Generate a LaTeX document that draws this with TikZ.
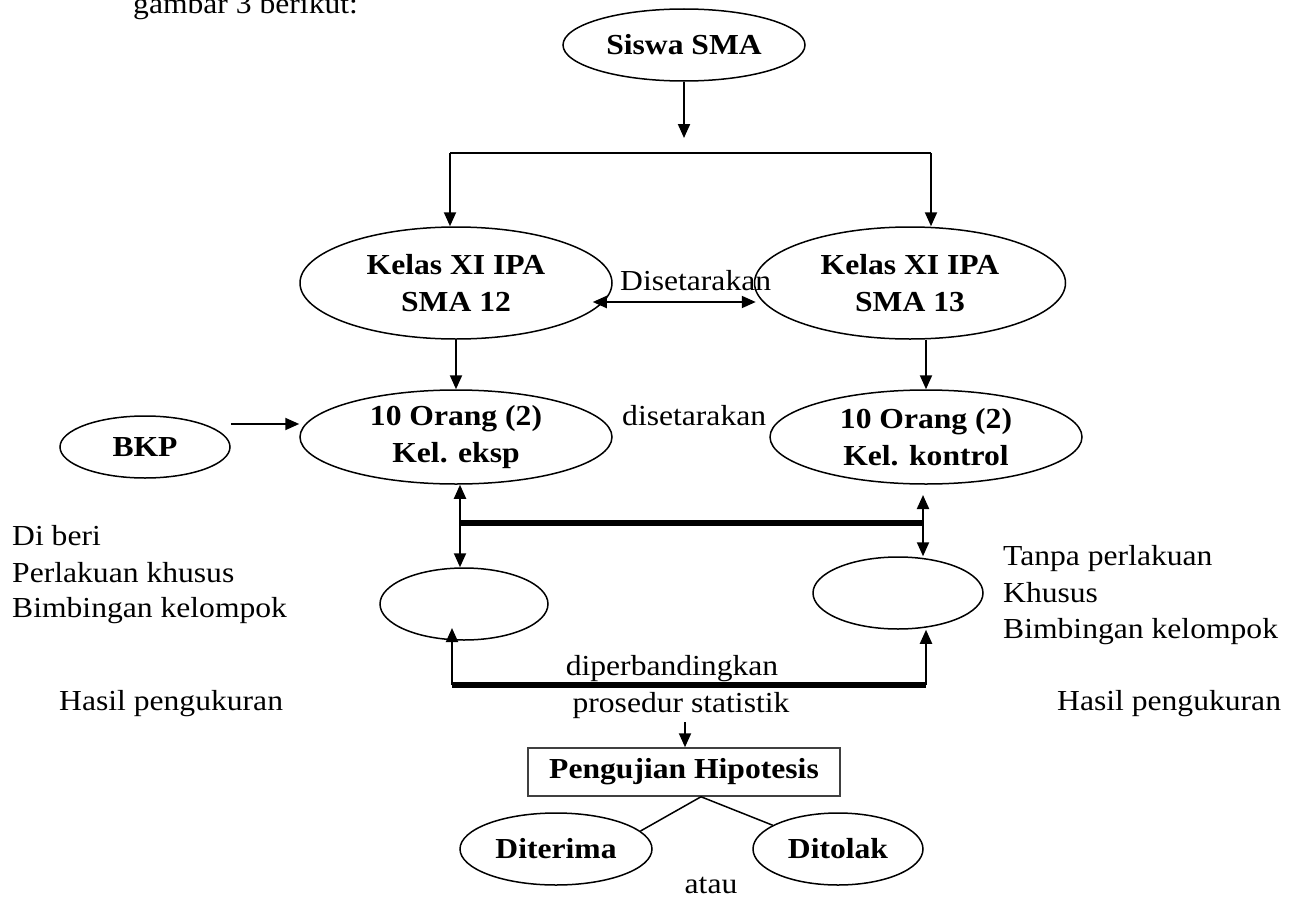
\documentclass[tikz,border=0pt]{standalone}
\usepackage{fontspec}
\setmainfont{Liberation Serif}[FakeStretch=1.09]
\usetikzlibrary{positioning,arrows.meta,shapes.geometric,calc}
\newcommand{\hurufbesar}{\fontsize{29}{37}\selectfont}
\tikzset{
  >={Triangle[length=14pt,width=12pt]},
  elips/.style={draw, ellipse, line width=1.5pt, inner sep=0pt, align=center,
    font=\hurufbesar\bfseries, minimum width=#1},
  elips/.default=312pt,
  panah/.style={->, line width=2pt},
  garis/.style={line width=2pt},
  tebal/.style={line width=6pt},
  teks/.style={anchor=base west, inner sep=0pt},
  tengah/.style={anchor=base, inner sep=0pt},
}
\begin{document}
\begin{tikzpicture}[x=1pt, y=-1pt, font=\hurufbesar]
    \useasboundingbox (0,0) rectangle (1298,899);
    % Judul (terpotong di atas)
    \node[teks] (judul) at (133,14) {gambar 3 berikut:};
    % Populasi
    \node[elips=242pt, minimum height=72pt] (siswa) at (684,45) {Siswa SMA};
    \node[elips, minimum height=112pt] (kelasA) at (456,283) {Kelas XI IPA\\ SMA 12};
    \node[elips=311pt, minimum height=112pt] (kelasB) at (910,283) {Kelas XI IPA\\ SMA 13};
    % Sampel
    \node[elips=170pt, minimum height=62pt] (bkp) at (145,447) {BKP};
    \node[elips, minimum height=94pt] (eksp) at (456,437) {10 Orang (2)\\ Kel. eksp};
    \node[elips, minimum height=94pt] (kontrol) at (926,437) {10 Orang (2)\\ Kel. kontrol};
    % Hasil pengukuran
    \node[elips=168pt, minimum height=72pt] (ukurA) at (464,604) {};
    \node[elips=170pt, minimum height=72pt] (ukurB) at (898,593) {};
    % Hipotesis
    \node[draw=black!75, line width=1.5pt, minimum width=312pt, minimum height=48pt,
      inner sep=0pt, font=\hurufbesar\bfseries] (hipotesis) at (684,772) {Pengujian Hipotesis};
    \node[elips=192pt, minimum height=72pt] (diterima) at (556,849) {Diterima};
    \node[elips=170pt, minimum height=72pt] (ditolak) at (838,849) {Ditolak};
    % Keterangan
    \node[teks] (setara1) at (620,290) {Disetarakan};
    \node[teks] (setara2) at (622,425) {disetarakan};
    \node[teks] (beri1) at (12,545) {Di beri};
    \node[teks] (beri2) at (12,582) {Perlakuan khusus};
    \node[teks] (beri3) at (12,617) {Bimbingan kelompok};
    \node[teks] (tanpa1) at (1003,565) {Tanpa perlakuan};
    \node[teks] (tanpa2) at (1003,602) {Khusus};
    \node[teks] (tanpa3) at (1003,638) {Bimbingan kelompok};
    \node[teks] (hasilA) at (59,710) {Hasil pengukuran};
    \node[teks] (hasilB) at (1057,710) {Hasil pengukuran};
    \node[tengah] (banding) at (672,675) {diperbandingkan};
    \node[tengah] (prosedur) at (681,712) {prosedur statistik};
    \node[tengah] (atau) at (711,893) {atau};
    % Titik bantu
    \coordinate (bagi) at (684,138);
    \coordinate (cabangA) at (450,153);
    \coordinate (cabangB) at (931,153);
    \coordinate (palangA) at (460,523);
    \coordinate (palangB) at (923,523);
    \coordinate (atasB) at (923,495);
    \coordinate (dasarA) at (452,685);
    \coordinate (dasarB) at (926,685);
    \coordinate (uji) at (685,722);
    % Panah
    \draw[panah] (siswa) -- (bagi);
    \draw[garis] (cabangA) -- (cabangB);
    \draw[panah] (cabangA) -- (cabangA |- kelasA.north);
    \draw[panah] (cabangB) -- (cabangB |- kelasB.north);
    \draw[panah, <->] ([xshift=-20pt,yshift=-19pt]kelasA.east) -- ([xshift=2pt,yshift=-19pt]kelasB.west);
    \draw[panah] (kelasA) -- (eksp);
    \draw[panah] (kontrol.north |- kelasB.south) -- (kontrol.north);
    \draw[panah] ([yshift=23pt]bkp.east) -- ([yshift=23pt]bkp.east -| eksp.west);
    \draw[panah, <->] (palangA |- eksp.south) -- (palangA |- ukurA.north);
    \draw[panah, <->] (atasB) -- (palangB |- ukurB.north);
    \draw[tebal] (palangA) -- (palangB);
    \draw[tebal] (dasarA) -- (dasarB);
    \draw[panah] (dasarA) -- ++(0,-57);
    \draw[panah] (dasarB) -- (dasarB |- ukurB.south);
    \draw[panah] (uji) -- (uji |- hipotesis.north);
    \draw[line width=1.5pt] ([xshift=17pt]hipotesis.south) -- (diterima.12);
    \draw[line width=1.5pt] ([xshift=17pt]hipotesis.south) -- (ditolak.160);
\end{tikzpicture}
\end{document}
